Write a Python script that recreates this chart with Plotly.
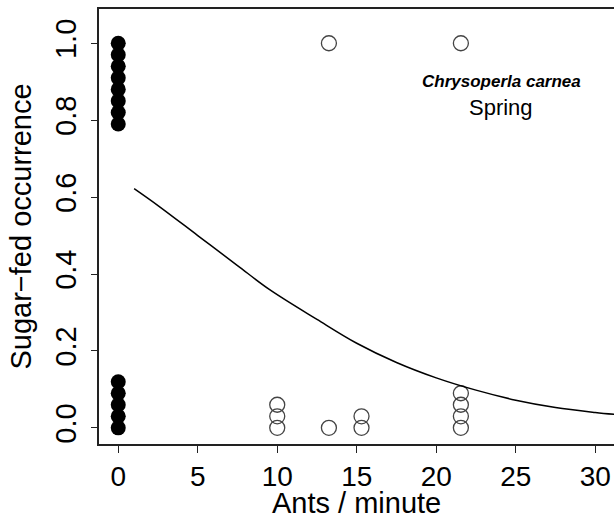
import plotly.graph_objects as go

# observations: ants per minute vs sugar-fed (1) / not sugar-fed (0), stacked points
fed_x = [0, 0, 0, 0, 0, 0, 0, 0, 13.25, 21.55]
fed_y = [1.0, 0.97, 0.94, 0.91, 0.88, 0.85, 0.82, 0.79, 1.0, 1.0]
fed_filled = [True, True, True, True, True, True, True, True, False, False]

unfed_x = [0, 0, 0, 0, 0, 10, 10, 10, 13.25, 15.3, 15.3, 21.55, 21.55, 21.55, 21.55]
unfed_y = [0.0, 0.03, 0.06, 0.09, 0.12, 0.0, 0.03, 0.06, 0.0, 0.0, 0.03, 0.0, 0.03, 0.06, 0.09]
unfed_filled = [True, True, True, True, True, False, False, False, False, False, False, False, False, False, False]

# fitted curve
curve_x = [1.0, 2.5, 5.0, 7.5, 9.5, 12.5, 15.0, 17.5, 20.0, 22.5, 25.0, 27.5, 30.0, 31.2]
curve_y = [0.622, 0.578, 0.500, 0.422, 0.360, 0.282, 0.220, 0.170, 0.130, 0.098, 0.072, 0.053, 0.040, 0.035]

x_ticks = [0, 5, 10, 15, 20, 25, 30]
y_ticks = [0.0, 0.2, 0.4, 0.6, 0.8, 1.0]
y_tick_labels = ['0.0', '0.2', '0.4', '0.6', '0.8', '1.0']

FONT = 'Liberation Sans, Arial, sans-serif'


def split_points(xs, ys, flags, want):
    px = [x for x, f in zip(xs, flags) if f == want]
    py = [y for y, f in zip(ys, flags) if f == want]
    return px, py


def build_figure():
    fig = go.Figure()

    all_x = fed_x + unfed_x
    all_y = fed_y + unfed_y
    all_f = fed_filled + unfed_filled

    sx, sy = split_points(all_x, all_y, all_f, True)
    fig.add_trace(go.Scatter(x=sx, y=sy, mode='markers',
                             marker=dict(symbol='circle', size=15, color='black'),
                             showlegend=False, cliponaxis=False))
    ox, oy = split_points(all_x, all_y, all_f, False)
    fig.add_trace(go.Scatter(x=ox, y=oy, mode='markers',
                             marker=dict(symbol='circle-open', size=15, color='#444',
                                         line=dict(width=1.3, color='#444')),
                             showlegend=False, cliponaxis=False))
    fig.add_trace(go.Scatter(x=curve_x, y=curve_y, mode='lines',
                             line=dict(color='black', width=1.5, shape='spline'),
                             showlegend=False))

    fig.add_annotation(x=24.1, y=0.90, text='<b><i>Chrysoperla carnea</i></b>',
                       showarrow=False, font=dict(family=FONT, size=17, color='black'))
    fig.add_annotation(x=24.1, y=0.833, text='Spring',
                       showarrow=False, font=dict(family=FONT, size=22, color='black'))

    # x title as an annotation so it can sit below the tick labels like in R
    fig.add_annotation(x=15.0, xref='x', y=-0.136, yref='paper', yanchor='middle',
                       text='Ants / minute', showarrow=False,
                       font=dict(family=FONT, size=29, color='black'))

    fig.update_layout(
        width=614, height=515,
        margin=dict(l=99, r=0, t=9, b=71),
        plot_bgcolor='white', paper_bgcolor='white',
        font=dict(family=FONT, color='black'),
        xaxis=dict(range=[-1.21, 31.18], tickvals=x_ticks, showgrid=False, zeroline=False,
                   showline=True, linecolor='#222', linewidth=1.5, mirror=True,
                   ticks='outside', ticklen=7, tickwidth=1.2, tickcolor='#222',
                   tickfont=dict(size=28), automargin=False),
        yaxis=dict(range=[-0.042, 1.089], tickvals=y_ticks, ticktext=y_tick_labels,
                   showgrid=False, zeroline=False,
                   showline=True, linecolor='#222', linewidth=1.5,
                   ticks='outside', ticklen=6, tickwidth=1.2, tickcolor='#222',
                   tickangle=-90, tickfont=dict(size=29), ticklabelstandoff=4,
                   automargin=False,
                   title=dict(text='Sugar\u2212fed occurrence', font=dict(size=29), standoff=10)),
    )
    return fig


def main():
    fig = build_figure()
    # drop the browser's default body margin so the figure sits at the window corner
    fig.write_html('out.html', config={'displayModeBar': False},
                   post_script="document.body.style.margin='0';")


if __name__ == '__main__':
    main()
